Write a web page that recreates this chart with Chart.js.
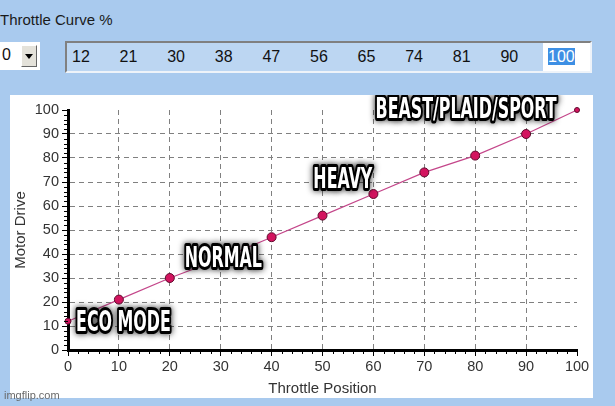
<!DOCTYPE html>
<html>
<head>
<meta charset="utf-8">
<script src="https://cdn.jsdelivr.net/npm/chart.js@4.4.1/dist/chart.umd.min.js"></script>
<style>
  html, body { margin: 0; padding: 0; }
  body {
    width: 615px; height: 406px; overflow: hidden; position: relative;
    background: #a9caee;
    font-family: 'Liberation Sans', Arial, sans-serif;
  }
  #curveLabel { position: absolute; left: 0; top: 11px; font-size: 15px; color: #1a1a1a; }
  #combo { position: absolute; left: 0; top: 42px; width: 40px; height: 28px; background: #fff; }
  #combo .val { position: absolute; left: 2px; top: 4px; font-size: 16px; color: #111; }
  #combo .btn {
    position: absolute; left: 21px; top: 3px; width: 16px; height: 22px; box-sizing: border-box;
    background: #e4e2da; border: 1px solid; border-color: #fff #666 #666 #fff;
  }
  #combo .btn:after {
    content: ''; position: absolute; left: 3px; top: 8px;
    border-left: 4.5px solid transparent; border-right: 4.5px solid transparent; border-top: 5px solid #000;
  }
  #curveBox {
    position: absolute; left: 65px; top: 41px; width: 527px; height: 32px; box-sizing: border-box;
    border: 2px solid; border-color: #808080 #eef3f9 #eef3f9 #808080;
    background: #bcd6f2;
  }
  .cell {
    position: absolute; top: 0; height: 28px; width: 47.6px; box-sizing: border-box;
    padding-left: 5px; font-size: 16px; line-height: 28px; color: #111;
  }
  .cell.sel { background: #fff; width: auto; right: 0; }
  .cell.sel span { background: #3d8fe4; color: #fff; }
  #panel { position: absolute; left: 10px; top: 95px; width: 583px; height: 303px; background: #fff; }
  #wm { position: absolute; left: 4px; top: 389px; font-size: 11px; color: #6a6a6a; }
</style>
</head>
<body>
<div id="curveLabel">Throttle Curve %</div>
<div id="combo"><span class="val">0</span><span class="btn"></span></div>
<div id="curveBox"></div>
<div id="panel"><canvas id="curveChart" width="583" height="303"></canvas></div>
<div id="wm">imgflip.com</div>
<script>
// throttle curve points
const throttlePos = [0, 10, 20, 30, 40, 50, 60, 70, 80, 90, 100];
const motorDrive = [12, 21, 30, 38, 47, 56, 65, 74, 81, 90, 100];

// meme captions, anchored in data units (throttle, drive)
const modeLabels = ['ECO MODE', 'NORMAL', 'HEAVY', 'BEAST/PLAID/SPORT'];
const modeAtX = [10.9, 30.5, 54, 78.2];
const modeAtY = [10.8, 37.7, 70.4, 99.6];

const FONT = "'Liberation Sans', Arial, sans-serif";

// fill the curve text box from the same values
const box = document.getElementById('curveBox');
motorDrive.forEach((v, i) => {
    const cell = document.createElement('div');
    cell.className = 'cell' + (i === motorDrive.length - 1 ? ' sel' : '');
    cell.style.left = (i * 47.6) + 'px';
    cell.innerHTML = i === motorDrive.length - 1 ? '<span>' + v + '</span>' : v;
    box.appendChild(cell);
});

const isMajor = v => Math.round(v) % 10 === 0;

// short minor ticks every 2 units on both axes
const minorTicks = {
    id: 'minorTicks',
    afterDraw(chart) {
        const { ctx, scales: { x, y }, chartArea } = chart;
        ctx.save();
        ctx.strokeStyle = '#000';
        ctx.lineWidth = 1;
        ctx.beginPath();
        x.ticks.forEach(t => {
            if (isMajor(t.value)) return;
            const px = Math.round(x.getPixelForValue(t.value)) + 0.5;
            ctx.moveTo(px, chartArea.bottom);
            ctx.lineTo(px, chartArea.bottom + 4);
        });
        y.ticks.forEach(t => {
            if (isMajor(t.value)) return;
            const py = Math.round(y.getPixelForValue(t.value)) + 0.5;
            ctx.moveTo(chartArea.left, py);
            ctx.lineTo(chartArea.left - 4, py);
        });
        ctx.stroke();
        ctx.restore();
    }
};

// white outlined captions, squeezed to look like Impact
const modeCaptions = {
    id: 'modeCaptions',
    afterDatasetsDraw(chart) {
        const { ctx, scales: { x, y } } = chart;
        ctx.save();
        ctx.font = "bold 28px 'DejaVu Sans Condensed', 'DejaVu Sans', sans-serif";
        ctx.textAlign = 'center';
        ctx.textBaseline = 'middle';
        ctx.lineJoin = 'round';
        modeLabels.forEach((text, i) => {
            const px = x.getPixelForValue(modeAtX[i]);
            const py = y.getPixelForValue(modeAtY[i]);
            ctx.save();
            ctx.translate(px, py);
            ctx.scale(0.63, 1);
            ctx.shadowColor = 'rgba(0,0,0,0.85)';
            ctx.shadowBlur = 6;
            ctx.strokeStyle = '#000';
            ctx.lineWidth = 6;
            ctx.strokeText(text, 0, 0);
            ctx.shadowBlur = 0;
            ctx.fillStyle = '#fff';
            ctx.fillText(text, 0, 0);
            ctx.restore();
        });
        ctx.restore();
    }
};

const gridColor = c => {
    if (!c.tick) return '#808080';
    const v = Math.round(c.tick.value);
    return (v % 10 === 0 && v !== 100 && v !== 0) ? '#808080' : 'rgba(0,0,0,0)';
};
const tickColor = c => (c.tick && !isMajor(c.tick.value)) ? 'rgba(0,0,0,0)' : '#000';

const lastIdx = motorDrive.length - 1;

new Chart(document.getElementById('curveChart'), {
    type: 'line',
    data: {
        datasets: [{
            data: throttlePos.map((x, i) => ({ x: x, y: motorDrive[i] })),
            borderColor: '#c4468a',
            borderWidth: 1.2,
            pointBackgroundColor: '#d3145f',
            pointBorderColor: '#5e0a2c',
            pointBorderWidth: 1,
            pointRadius: c => c.dataIndex === 0 ? 3 : (c.dataIndex === lastIdx ? 2.5 : 4.5),
            tension: 0,
            clip: false
        }]
    },
    options: {
        responsive: false,
        animation: false,
        events: [],
        layout: { padding: { left: 0, top: 15, right: 16, bottom: 0 } },
        plugins: { legend: { display: false }, tooltip: { enabled: false } },
        scales: {
            x: {
                type: 'linear', min: 0, max: 100,
                ticks: {
                    stepSize: 2, autoSkip: false, maxRotation: 0, padding: 2,
                    color: '#333', font: { family: FONT, size: 14.5 },
                    callback: v => isMajor(v) ? Math.round(v) : ''
                },
                grid: { color: gridColor, tickColor: tickColor, tickLength: 6, lineWidth: 1 },
                border: { display: true, color: '#000', width: 3, dash: [5, 4] },
                title: {
                    display: true, text: 'Throttle Position', color: '#333',
                    font: { family: FONT, size: 15 }, padding: { top: 0, bottom: 0 }
                },
                afterFit: s => { s.height = 48; }
            },
            y: {
                type: 'linear', min: 0, max: 100,
                ticks: {
                    stepSize: 2, autoSkip: false, padding: 3,
                    color: '#333', font: { family: FONT, size: 14.5 },
                    callback: v => isMajor(v) ? Math.round(v) : ''
                },
                grid: { color: gridColor, tickColor: tickColor, tickLength: 6, lineWidth: 1 },
                border: { display: true, color: '#000', width: 3, dash: [5, 4] },
                title: {
                    display: true, text: 'Motor Drive', color: '#333',
                    font: { family: FONT, size: 15 }, padding: { top: 2, bottom: 0 }
                },
                afterFit: s => { s.width = 58; }
            }
        }
    },
    plugins: [minorTicks, modeCaptions]
});
</script>
</body>
</html>
